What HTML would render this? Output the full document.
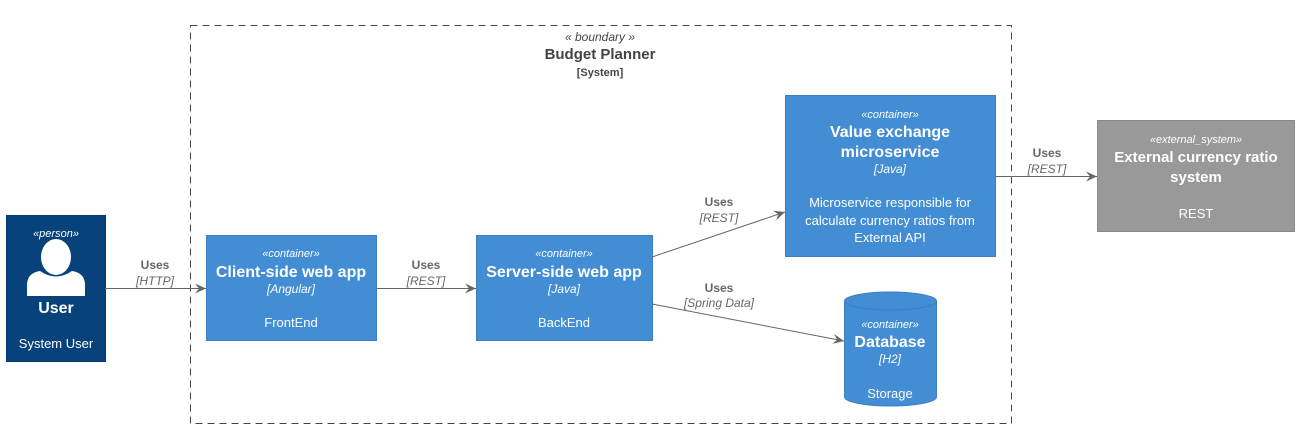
<!DOCTYPE html>
<html><head><meta charset="utf-8"><style>
html,body{margin:0;padding:0;background:#fff;}
svg{display:block;font-family:"Liberation Sans",Arial,sans-serif;}
</style></head><body>
<svg width="1304" height="433" viewBox="0 0 1304 433" xmlns="http://www.w3.org/2000/svg">
<defs>
<marker id="a" viewBox="0 0 12 10" refX="11" refY="5" markerWidth="12" markerHeight="10" markerUnits="userSpaceOnUse" orient="auto">
<path d="M0,0 L11,5 L0,10 L4,5 Z" fill="#666"/>
</marker>
</defs>
<!-- boundary -->
<rect x="190.5" y="25.5" width="821" height="398" fill="none" stroke="#444" stroke-dasharray="7,5"/>
<text x="600" y="41" font-size="12" font-style="italic" fill="#444" text-anchor="middle">« boundary »</text>
<text x="600" y="59" font-size="15" font-weight="bold" fill="#444" text-anchor="middle">Budget Planner</text>
<text x="600" y="76" font-size="11" font-weight="bold" fill="#444" text-anchor="middle">[System]</text>

<!-- person -->
<rect x="6.5" y="215.5" width="99" height="146" fill="#08427B" stroke="#073B6F"/>
<text x="56" y="237" font-size="11" font-style="italic" fill="#fff" text-anchor="middle">«person»</text>
<ellipse cx="56" cy="257" rx="15" ry="18" fill="#fff"/>
<path d="M27,296 L27,285 Q27,273 40,271 Q56,282 72,271 Q85,273 85,285 L85,296 Z" fill="#fff"/>
<text x="56" y="313" font-size="16" font-weight="bold" fill="#fff" text-anchor="middle">User</text>
<text x="56" y="348" font-size="13" fill="#fff" text-anchor="middle">System User</text>

<!-- client -->
<rect x="206.5" y="235.5" width="170" height="105" fill="#438DD5" stroke="#3C7FC0"/>
<text x="291" y="257" font-size="11" font-style="italic" fill="#fff" text-anchor="middle">«container»</text>
<text x="291" y="277" font-size="16" font-weight="bold" fill="#fff" text-anchor="middle">Client-side web app</text>
<text x="291" y="293" font-size="12" font-style="italic" fill="#fff" text-anchor="middle">[Angular]</text>
<text x="291" y="327" font-size="13" fill="#fff" text-anchor="middle">FrontEnd</text>

<!-- server -->
<rect x="476.5" y="235.5" width="176" height="105" fill="#438DD5" stroke="#3C7FC0"/>
<text x="564" y="257" font-size="11" font-style="italic" fill="#fff" text-anchor="middle">«container»</text>
<text x="564" y="277" font-size="16" font-weight="bold" fill="#fff" text-anchor="middle">Server-side web app</text>
<text x="564" y="293" font-size="12" font-style="italic" fill="#fff" text-anchor="middle">[Java]</text>
<text x="564" y="327" font-size="13" fill="#fff" text-anchor="middle">BackEnd</text>

<!-- value exchange -->
<rect x="785.5" y="95.5" width="210" height="161" fill="#438DD5" stroke="#3C7FC0"/>
<text x="890" y="118" font-size="11" font-style="italic" fill="#fff" text-anchor="middle">«container»</text>
<text x="890" y="137" font-size="16" font-weight="bold" fill="#fff" text-anchor="middle">Value exchange</text>
<text x="890" y="157" font-size="16" font-weight="bold" fill="#fff" text-anchor="middle">microservice</text>
<text x="890" y="173" font-size="12" font-style="italic" fill="#fff" text-anchor="middle">[Java]</text>
<text x="890" y="207" font-size="13" fill="#fff" text-anchor="middle">Microservice responsible for</text>
<text x="890" y="225" font-size="13" fill="#fff" text-anchor="middle">calculate currency ratios from</text>
<text x="890" y="242" font-size="13" fill="#fff" text-anchor="middle">External API</text>

<!-- database -->
<path d="M844.5,301 L844.5,397 A46,9 0 0 0 936.5,397 L936.5,301 A46,9 0 0 0 844.5,301 Z" fill="#438DD5" stroke="#3C7FC0"/>
<path d="M844.5,301 A46,9 0 0 0 936.5,301" fill="none" stroke="#3C7FC0"/>
<text x="890" y="328" font-size="11" font-style="italic" fill="#fff" text-anchor="middle">«container»</text>
<text x="890" y="347" font-size="16" font-weight="bold" fill="#fff" text-anchor="middle">Database</text>
<text x="890" y="363" font-size="12" font-style="italic" fill="#fff" text-anchor="middle">[H2]</text>
<text x="890" y="398" font-size="13" fill="#fff" text-anchor="middle">Storage</text>

<!-- external -->
<rect x="1097.5" y="120.5" width="197" height="111" fill="#999999" stroke="#8A8A8A"/>
<text x="1196" y="143" font-size="11" font-style="italic" fill="#fff" text-anchor="middle">«external_system»</text>
<text x="1196" y="162" font-size="15" font-weight="bold" fill="#fff" text-anchor="middle">External currency ratio</text>
<text x="1196" y="182" font-size="15" font-weight="bold" fill="#fff" text-anchor="middle">system</text>
<text x="1196" y="218" font-size="13" fill="#fff" text-anchor="middle">REST</text>

<!-- connectors -->
<g stroke="#666" stroke-width="1" fill="none">
<line x1="105" y1="288.5" x2="206" y2="288.5" marker-end="url(#a)"/>
<line x1="376" y1="288.5" x2="476" y2="288.5" marker-end="url(#a)"/>
<line x1="652" y1="257" x2="785" y2="212" marker-end="url(#a)"/>
<line x1="652" y1="304" x2="844" y2="341" marker-end="url(#a)"/>
<line x1="995" y1="176.5" x2="1097" y2="176.5" marker-end="url(#a)"/>
</g>
<g font-size="12" fill="#666" text-anchor="middle">
<text x="155" y="269" font-weight="bold">Uses</text>
<text x="155" y="285" font-style="italic">[HTTP]</text>
<text x="426" y="269" font-weight="bold">Uses</text>
<text x="426" y="285" font-style="italic">[REST]</text>
<text x="719" y="206" font-weight="bold">Uses</text>
<text x="719" y="222" font-style="italic">[REST]</text>
<text x="719" y="292" font-weight="bold">Uses</text>
<text x="719" y="307" font-style="italic">[Spring Data]</text>
<text x="1047" y="157" font-weight="bold">Uses</text>
<text x="1047" y="173" font-style="italic">[REST]</text>
</g>
</svg>
</body></html>
